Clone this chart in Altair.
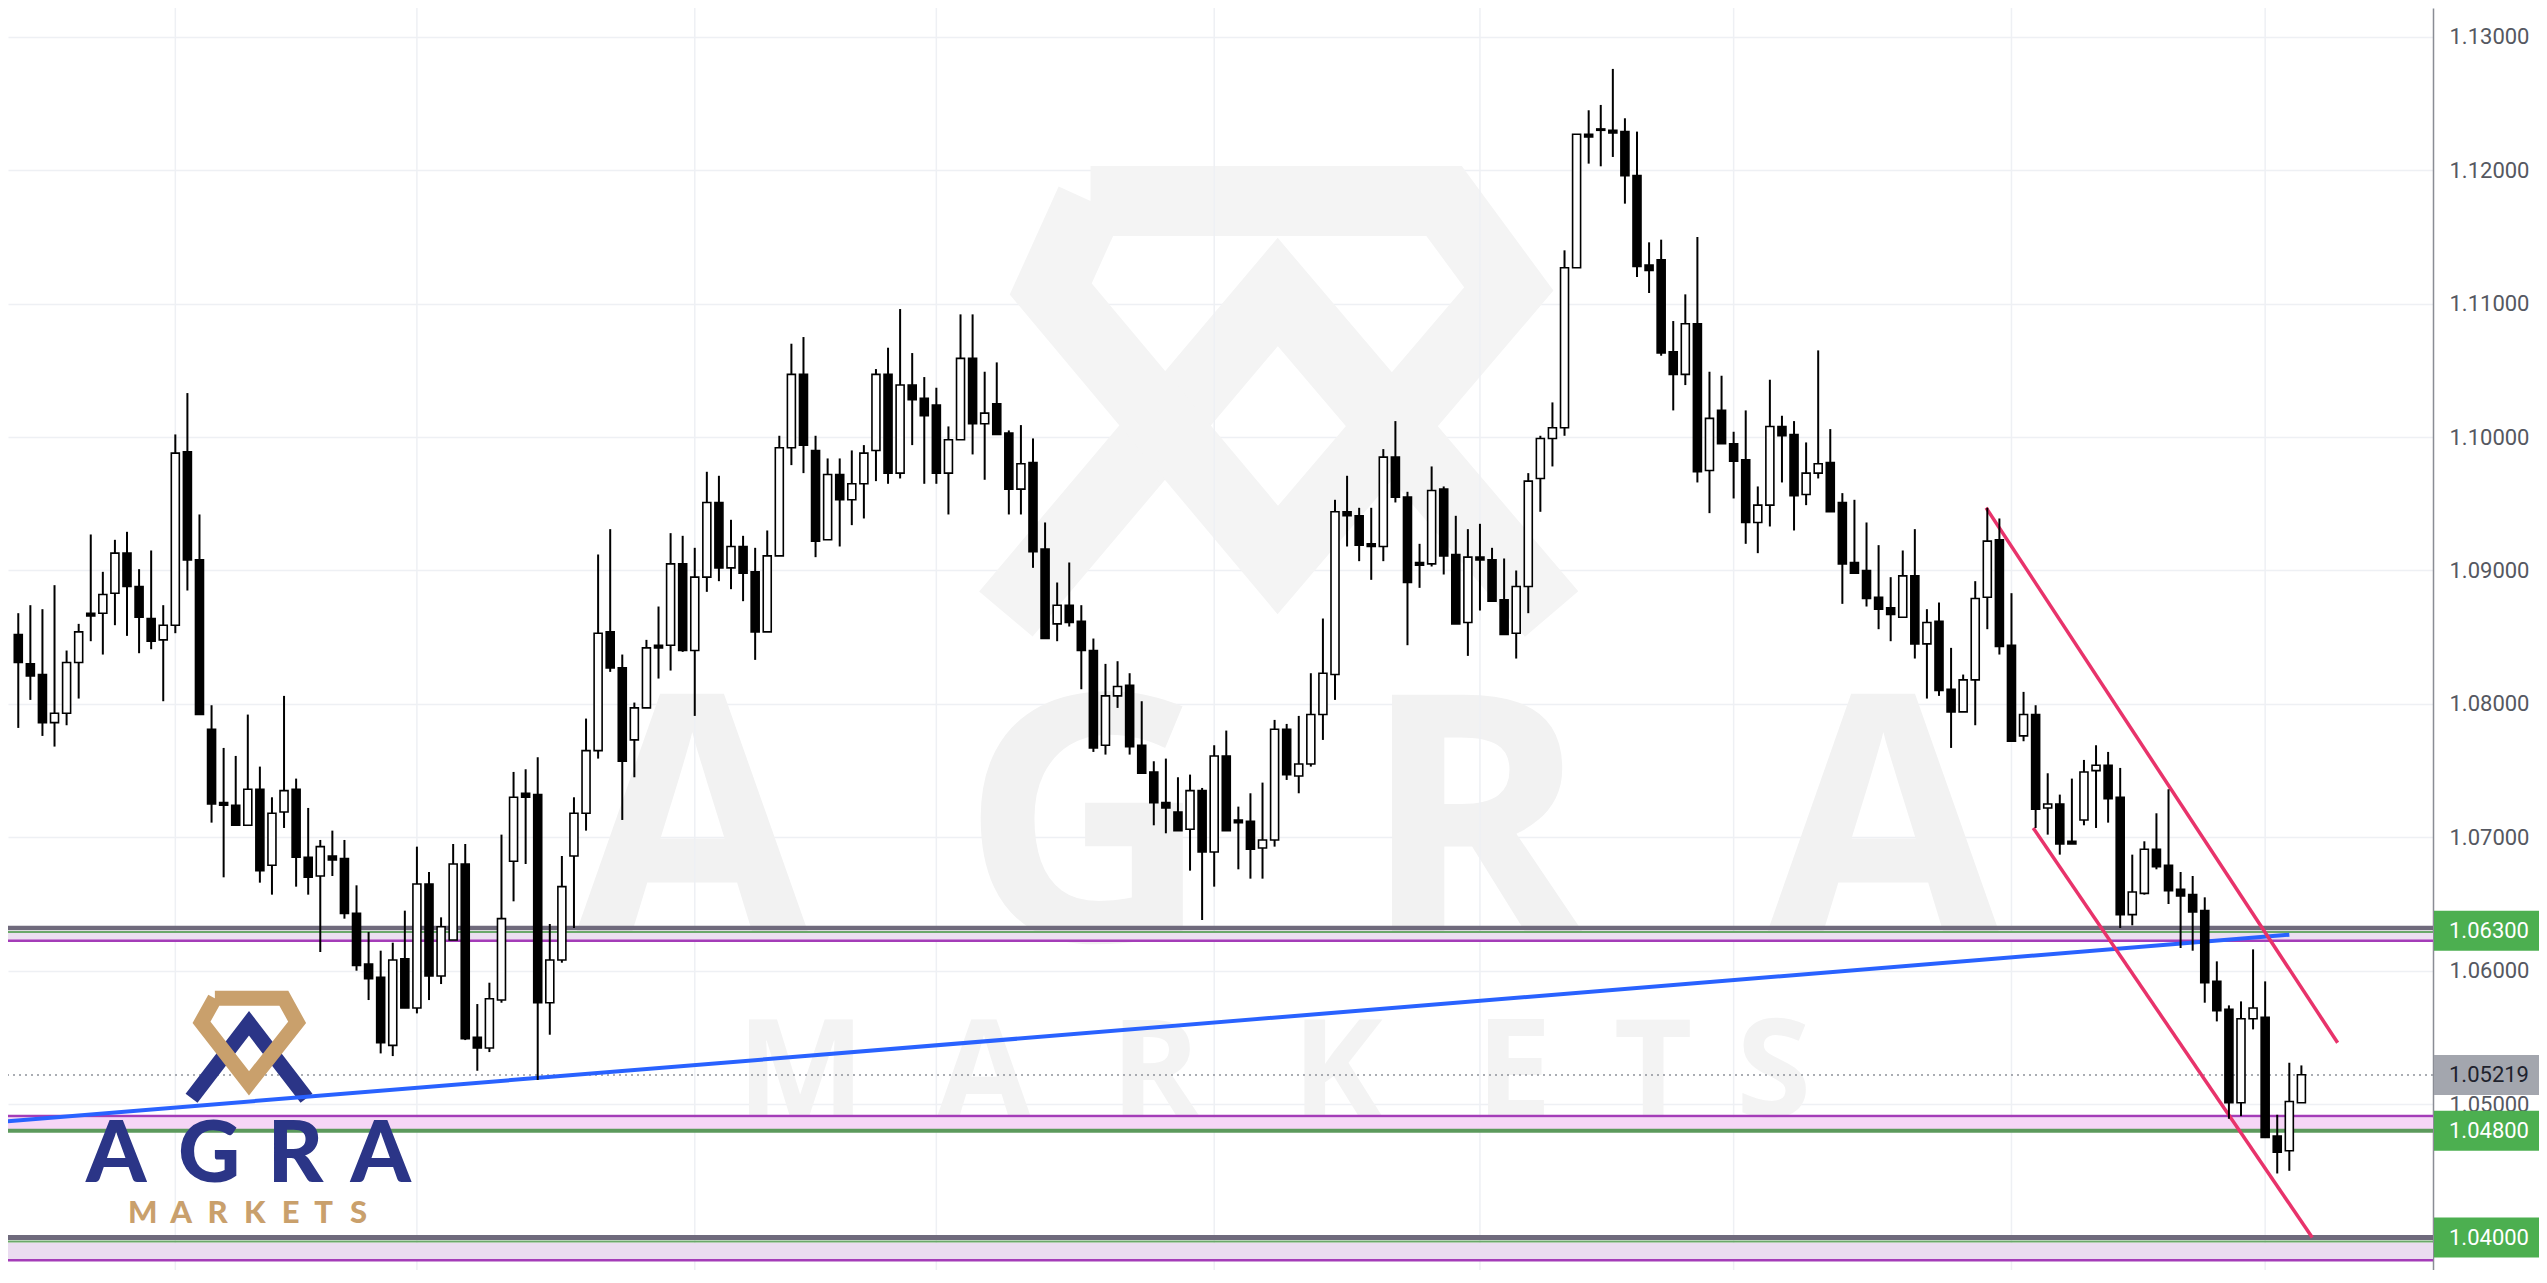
import altair as alt
import pandas as pd

# ---------------- data ----------------
opens = [1.0852, 1.0830, 1.0822, 1.0786, 1.0793, 1.0831, 1.0868, 1.0868, 1.0883, 1.0913,
         1.0888, 1.0864, 1.0848, 1.0859, 1.0989, 1.0908, 1.0781, 1.0726, 1.0724, 1.0709,
         1.0736, 1.0679, 1.0719, 1.0736, 1.0685, 1.0671, 1.0686, 1.0684, 1.0643, 1.0605,
         1.0595, 1.0544, 1.0609, 1.0572, 1.0665, 1.0596, 1.0623, 1.0680, 1.0550, 1.0542,
         1.0578, 1.0682, 1.0733, 1.0732, 1.0576, 1.0608, 1.0686, 1.0718, 1.0765, 1.0854,
         1.0827, 1.0773, 1.0797, 1.0844, 1.0844, 1.0905, 1.0840, 1.0895, 1.0951, 1.0902,
         1.0918, 1.0899, 1.0854, 1.0911, 1.0992, 1.1047, 1.0990, 1.0923, 1.0972, 1.0953,
         1.0965, 1.0990, 1.1047, 1.0973, 1.1039, 1.1029, 1.1024, 1.0973, 1.0998, 1.1059,
         1.1010, 1.1025, 1.1003, 1.0961, 1.0981, 1.0916, 1.0860, 1.0874, 1.0862, 1.0840,
         1.0769, 1.0806, 1.0814, 1.0769, 1.0749, 1.0726, 1.0719, 1.0706, 1.0735, 1.0689,
         1.0761, 1.0713, 1.0712, 1.0692, 1.0698, 1.0781, 1.0746, 1.0755, 1.0792, 1.0822,
         1.0944, 1.0941, 1.0920, 1.0918, 1.0985, 1.0955, 1.0906, 1.0905, 1.0961, 1.0912,
         1.0861, 1.0910, 1.0908, 1.0878, 1.0853, 1.0888, 1.0969, 1.0999, 1.1007, 1.1127,
         1.1227, 1.1231, 1.1230, 1.1229, 1.1196, 1.1129, 1.1133, 1.1064, 1.1047, 1.1085,
         1.0975, 1.1020, 1.0995, 1.0983, 1.0936, 1.0949, 1.1008, 1.1002, 1.0957, 1.0973,
         1.0981, 1.0951, 1.0906, 1.0900, 1.0880, 1.0872, 1.0865, 1.0896, 1.0845, 1.0862,
         1.0811, 1.0794, 1.0818, 1.0880, 1.0923, 1.0844, 1.0776, 1.0792, 1.0722, 1.0725,
         1.0697, 1.0713, 1.0750, 1.0754, 1.0730, 1.0642, 1.0658, 1.0691, 1.0679, 1.0661,
         1.0657, 1.0645, 1.0592, 1.0571, 1.0501, 1.0564, 1.0565, 1.0476, 1.0465, 1.0501]
highs = [1.0868, 1.0874, 1.0871, 1.0889, 1.0840, 1.0860, 1.0927, 1.0899, 1.0923, 1.0929,
         1.0901, 1.0915, 1.0874, 1.1002, 1.1033, 1.0942, 1.0799, 1.0767, 1.0761, 1.0792,
         1.0753, 1.0730, 1.0806, 1.0744, 1.0722, 1.0698, 1.0705, 1.0698, 1.0664, 1.0629,
         1.0615, 1.0621, 1.0645, 1.0693, 1.0674, 1.0640, 1.0695, 1.0695, 1.0575, 1.0591,
         1.0702, 1.0749, 1.0751, 1.0760, 1.0635, 1.0686, 1.0730, 1.0789, 1.0912, 1.0931,
         1.0837, 1.0801, 1.0848, 1.0873, 1.0928, 1.0926, 1.0917, 1.0974, 1.0971, 1.0938,
         1.0926, 1.0917, 1.0930, 1.1001, 1.1070, 1.1075, 1.1001, 1.0984, 1.0984, 1.0990,
         1.0994, 1.1051, 1.1067, 1.1096, 1.1063, 1.1045, 1.1037, 1.1008, 1.1092, 1.1092,
         1.1049, 1.1056, 1.1005, 1.1009, 1.0999, 1.0936, 1.0891, 1.0906, 1.0874, 1.0849,
         1.0830, 1.0832, 1.0823, 1.0802, 1.0757, 1.0759, 1.0745, 1.0747, 1.0737, 1.0769,
         1.0780, 1.0723, 1.0733, 1.0741, 1.0788, 1.0785, 1.0791, 1.0823, 1.0864, 1.0953,
         1.0971, 1.0947, 1.0947, 1.0991, 1.1012, 1.0959, 1.0920, 1.0978, 1.0963, 1.0941,
         1.0931, 1.0935, 1.0917, 1.0909, 1.0900, 1.0973, 1.1001, 1.1026, 1.1140, 1.1227,
         1.1245, 1.1249, 1.1276, 1.1239, 1.1229, 1.1146, 1.1148, 1.1087, 1.1107, 1.1150,
         1.1049, 1.1046, 1.1004, 1.1020, 1.0963, 1.1043, 1.1016, 1.1012, 1.0996, 1.1065,
         1.1006, 1.0958, 1.0953, 1.0936, 1.0919, 1.0895, 1.0915, 1.0931, 1.0871, 1.0876,
         1.0842, 1.0822, 1.0892, 1.0947, 1.0939, 1.0883, 1.0809, 1.0799, 1.0748, 1.0732,
         1.0744, 1.0758, 1.0769, 1.0764, 1.0752, 1.0687, 1.0697, 1.0718, 1.0736, 1.0674,
         1.0671, 1.0655, 1.0607, 1.0574, 1.0577, 1.0616, 1.0592, 1.0492, 1.0531, 1.0529]
lows = [1.0782, 1.0803, 1.0776, 1.0768, 1.0784, 1.0804, 1.0847, 1.0837, 1.0859, 1.0851,
        1.0838, 1.0841, 1.0802, 1.0853, 1.0885, 1.0792, 1.0711, 1.0670, 1.0709, 1.0709,
        1.0666, 1.0657, 1.0707, 1.0663, 1.0657, 1.0614, 1.0671, 1.0639, 1.0600, 1.0578,
        1.0538, 1.0536, 1.0572, 1.0568, 1.0578, 1.0590, 1.0623, 1.0548, 1.0525, 1.0539,
        1.0576, 1.0652, 1.0680, 1.0518, 1.0552, 1.0606, 1.0632, 1.0705, 1.0759, 1.0824,
        1.0713, 1.0745, 1.0797, 1.0819, 1.0825, 1.0839, 1.0791, 1.0884, 1.0892, 1.0886,
        1.0877, 1.0833, 1.0854, 1.0911, 1.0979, 1.0973, 1.0910, 1.0923, 1.0918, 1.0934,
        1.0939, 1.0967, 1.0965, 1.0969, 1.0994, 1.0965, 1.0965, 1.0942, 1.0998, 1.0987,
        1.0968, 1.1002, 1.0942, 1.0942, 1.0902, 1.0849, 1.0847, 1.0858, 1.0811, 1.0764,
        1.0762, 1.0797, 1.0762, 1.0748, 1.0709, 1.0703, 1.0705, 1.0675, 1.0638, 1.0663,
        1.0705, 1.0676, 1.0669, 1.0669, 1.0693, 1.0743, 1.0733, 1.0753, 1.0773, 1.0803,
        1.0918, 1.0907, 1.0893, 1.0907, 1.0951, 1.0844, 1.0887, 1.0903, 1.0897, 1.0860,
        1.0836, 1.0870, 1.0877, 1.0852, 1.0834, 1.0868, 1.0944, 1.0978, 1.1001, 1.1127,
        1.1205, 1.1203, 1.1210, 1.1175, 1.1120, 1.1108, 1.1061, 1.1020, 1.1039, 1.0966,
        1.0943, 1.0995, 1.0954, 1.0920, 1.0913, 1.0933, 1.0966, 1.0930, 1.0949, 1.0969,
        1.0944, 1.0875, 1.0898, 1.0873, 1.0856, 1.0847, 1.0865, 1.0834, 1.0804, 1.0806,
        1.0767, 1.0794, 1.0784, 1.0856, 1.0837, 1.0772, 1.0772, 1.0707, 1.0702, 1.0687,
        1.0695, 1.0709, 1.0707, 1.0711, 1.0632, 1.0634, 1.0657, 1.0676, 1.0650, 1.0617,
        1.0615, 1.0576, 1.0562, 1.0489, 1.0491, 1.0556, 1.0475, 1.0448, 1.0450, 1.0501]
closes = [1.0831, 1.0821, 1.0786, 1.0793, 1.0831, 1.0854, 1.0866, 1.0882, 1.0913, 1.0888,
          1.0865, 1.0847, 1.0859, 1.0988, 1.0908, 1.0792, 1.0725, 1.0724, 1.0709, 1.0736,
          1.0675, 1.0718, 1.0735, 1.0685, 1.0670, 1.0693, 1.0683, 1.0643, 1.0604, 1.0594,
          1.0546, 1.0608, 1.0572, 1.0665, 1.0596, 1.0633, 1.0680, 1.0549, 1.0542, 1.0579,
          1.0639, 1.0730, 1.0730, 1.0576, 1.0608, 1.0663, 1.0718, 1.0765, 1.0853, 1.0827,
          1.0757, 1.0797, 1.0842, 1.0842, 1.0905, 1.0840, 1.0895, 1.0951, 1.0902, 1.0918,
          1.0898, 1.0854, 1.0911, 1.0992, 1.1047, 1.0994, 1.0922, 1.0972, 1.0953, 1.0965,
          1.0988, 1.1047, 1.0973, 1.1039, 1.1028, 1.1016, 1.0973, 1.0998, 1.1059, 1.1010,
          1.1018, 1.1002, 1.0961, 1.0980, 1.0914, 1.0849, 1.0874, 1.0861, 1.0840, 1.0767,
          1.0806, 1.0813, 1.0768, 1.0748, 1.0726, 1.0722, 1.0705, 1.0735, 1.0689, 1.0761,
          1.0705, 1.0711, 1.0691, 1.0698, 1.0781, 1.0747, 1.0755, 1.0792, 1.0823, 1.0944,
          1.0941, 1.0919, 1.0918, 1.0985, 1.0955, 1.0891, 1.0904, 1.0960, 1.0911, 1.0860,
          1.0910, 1.0908, 1.0877, 1.0852, 1.0888, 1.0967, 1.0999, 1.1007, 1.1127, 1.1227,
          1.1225, 1.1230, 1.1228, 1.1196, 1.1128, 1.1125, 1.1063, 1.1047, 1.1085, 1.0974,
          1.1014, 1.0995, 1.0982, 1.0936, 1.0949, 1.1008, 1.1001, 1.0956, 1.0973, 1.0980,
          1.0944, 1.0905, 1.0898, 1.0879, 1.0871, 1.0867, 1.0896, 1.0845, 1.0861, 1.0810,
          1.0794, 1.0818, 1.0879, 1.0922, 1.0843, 1.0772, 1.0792, 1.0721, 1.0725, 1.0695,
          1.0695, 1.0749, 1.0754, 1.0729, 1.0642, 1.0659, 1.0691, 1.0678, 1.0660, 1.0656,
          1.0644, 1.0591, 1.0570, 1.0501, 1.0564, 1.0572, 1.0475, 1.0464, 1.0502, 1.0522]

axis_ticks = [1.04, 1.05, 1.06, 1.07, 1.08, 1.09, 1.10, 1.11, 1.12, 1.13]
vgrid_bars = [13, 33, 56, 76, 99, 121, 142, 165, 186]

level_values = [1.063, 1.048, 1.040]
level_labels = ["1.06300", "1.04800", "1.04000"]
last_price = 1.05219
last_label = "1.05219"

# horizontal zones: boundary lines (price, colour, width) and fills (top, bottom, colour)
zone_line_prices = [1.0632, 1.0629, 1.06225, 1.0491, 1.0480, 1.0400, 1.0397, 1.0383]
zone_line_colors = ["#6f6a7c", "#6aa86a", "#a43cb8", "#a43cb8", "#5c9a5c", "#6f6a7c", "#6aa86a", "#a43cb8"]
zone_line_widths = [4.5, 2, 2.5, 2.5, 4, 5, 2, 2.5]
zone_fill_top = [1.0629, 1.0490, 1.0396]
zone_fill_bottom = [1.06225, 1.0481, 1.0383]
zone_fill_colors = ["#ecdff1", "#f6d6f6", "#eadcf0"]

# drawn lines (bar index, price)
blue_bars = [-1.1, 188.0]
blue_prices = [1.0487, 1.0627]
upper_bars = [162.9, 192.0]
upper_prices = [1.0947, 1.0546]
lower_bars = [166.8, 189.9]
lower_prices = [1.0707, 1.0400]

# ---------------- layout ----------------
W, H, PAD_R = 2425, 1262, 106
PAGE = 8
BAR0_PX, BAR_STEP = 13.3, 12.13
P113_PX, PX_PER_UNIT = 36.9, 13340.0
BOX_H = 40


def rx(px):
    return (px - BAR0_PX) / BAR_STEP


def ry(py):
    return 1.13 - (py - P113_PX) / PX_PER_UNIT


x_dom = [rx(PAGE), rx(PAGE + W)]
y_dom = [ry(PAGE + H), ry(PAGE)]

xs = alt.Scale(domain=x_dom, nice=False, zero=False)
ys = alt.Scale(domain=y_dom, nice=False, zero=False)
yaxis = alt.Axis(orient="right", values=axis_ticks, format=".5f", grid=True,
                 gridColor="#eef0f4", gridWidth=1.5, domainColor="#8a8d95", domainWidth=1.5,
                 ticks=False, labelPadding=16, labelFontSize=22, labelColor="#555861",
                 labelFont="Roboto", title=None, labelFlush=False)


def X(f):
    return alt.X(f, type="quantitative", scale=xs, axis=None)


def Y(f):
    return alt.Y(f, type="quantitative", scale=ys, axis=yaxis)


def Y2(f):
    return alt.Y2(f)


# ---------------- watermark ----------------
wm_letters = ["A", "G", "R", "A"]
wm_px = [690, 1085, 1476, 1886]
wm_df = pd.DataFrame({"t": wm_letters, "x": [rx(p) for p in wm_px], "y": [ry(941)] * 4})
wm_text = alt.Chart(wm_df).mark_text(font="Open Sans", fontSize=345, fontWeight="bold",
                                     color="#f2f2f2", baseline="alphabetic", align="center").encode(
    x=X("x"), y=Y("y"), text="t:N")

wm2_letters = list("MARKETS")
wm2_px = [799, 983, 1155, 1338, 1515, 1655, 1776]
wm2_df = pd.DataFrame({"t": wm2_letters, "x": [rx(p) for p in wm2_px], "y": [ry(1117)] * 7})
wm2_text = alt.Chart(wm2_df).mark_text(font="Open Sans", fontSize=136, fontWeight="bold",
                                       color="#f3f3f3", baseline="alphabetic", align="center").encode(
    x=X("x"), y=Y("y"), text="t:N")

emb_rows = []
gem = [(1090, 201), (1445, 201), (1510, 289), (1278, 560), (1050, 289), (1090, 201)]
chev = [(1005, 614), (1278, 292), (1553, 614)]
for k, (a, b) in enumerate(chev):
    emb_rows.append({"g": "chev", "o": k, "x": rx(a), "y": ry(b)})
for k, (a, b) in enumerate(gem):
    emb_rows.append({"g": "gem", "o": k, "x": rx(a), "y": ry(b)})
emb_df = pd.DataFrame(emb_rows)
emblem = alt.Chart(emb_df).mark_line(strokeWidth=70, color="#f4f4f4", strokeJoin="miter",
                                     strokeCap="butt").encode(
    x=X("x"), y=Y("y"), detail="g:N", order="o:Q")

# ---------------- grid / zones ----------------
vgrid = alt.Chart(pd.DataFrame({"x": vgrid_bars})).mark_rule(color="#eef0f4", strokeWidth=1.5).encode(
    x=X("x"))

zf_df = pd.DataFrame({"y": zone_fill_top, "y2": zone_fill_bottom, "c": zone_fill_colors})
zone_fill = alt.Chart(zf_df).mark_rect().encode(
    x=alt.value(0), x2=alt.value(W), y=Y("y"), y2=Y2("y2"), color=alt.Color("c:N", scale=None))

zl_df = pd.DataFrame({"y": zone_line_prices, "c": zone_line_colors, "w": zone_line_widths})
zone_lines = alt.Chart(zl_df).mark_rule().encode(
    y=Y("y"), color=alt.Color("c:N", scale=None), strokeWidth=alt.StrokeWidth("w:Q", scale=None))

last_line = alt.Chart(pd.DataFrame({"y": [last_price]})).mark_rule(
    color="#8f929a", strokeWidth=1.5, strokeDash=[2, 4]).encode(y=Y("y"))

# ---------------- logo (bottom left) ----------------
logo_chev = [(187.3, 1098.3), (245, 1023.3), (302.7, 1098.3)]
logo_gem = [(210.7, 998.3), (280, 998.3), (293.3, 1022.3), (245, 1083.3), (197.3, 1022.3), (210.7, 998.3)]
logo_chev_df = pd.DataFrame([{"g": "chev", "o": k, "x": rx(a), "y": ry(b)} for k, (a, b) in enumerate(logo_chev)])
logo_gem_df = pd.DataFrame([{"g": "gem", "o": k, "x": rx(a), "y": ry(b)} for k, (a, b) in enumerate(logo_gem)])
logo_chev_mark = alt.Chart(logo_chev_df).mark_line(strokeWidth=15, color="#2b3587", strokeJoin="miter",
                                                   strokeCap="butt").encode(
    x=X("x"), y=Y("y"), detail="g:N", order="o:Q")
logo_gem_mark = alt.Chart(logo_gem_df).mark_line(strokeWidth=15, color="#c9a06c", strokeJoin="miter",
                                                 strokeCap="butt").encode(
    x=X("x"), y=Y("y"), detail="g:N", order="o:Q")

agra_letters = list("AGRA")
agra_px = [111.7, 205, 291.7, 377.3]
agra_df = pd.DataFrame({"t": agra_letters, "x": [rx(p) for p in agra_px], "y": [ry(1181.7)] * 4})
agra_text = alt.Chart(agra_df).mark_text(font="Lato", fontSize=86, fontWeight=900, color="#2b3587",
                                         baseline="alphabetic", align="center").encode(
    x=X("x"), y=Y("y"), text="t:N")
mk_letters = list("MARKETS")
mk_px = [138.3, 176.7, 213.3, 250.7, 286.7, 320, 355]
mk_df = pd.DataFrame({"t": mk_letters, "x": [rx(p) for p in mk_px], "y": [ry(1223.3)] * 7})
mk_text = alt.Chart(mk_df).mark_text(font="Lato", fontSize=31, fontWeight=900, color="#c9a06c",
                                     baseline="alphabetic", align="center").encode(
    x=X("x"), y=Y("y"), text="t:N")

# ---------------- drawn lines ----------------
blue = alt.Chart(pd.DataFrame({"x": blue_bars, "y": blue_prices})).mark_line(
    color="#2962ff", strokeWidth=4, clip=True).encode(x=X("x"), y=Y("y"))
ch_df = pd.DataFrame({"x": upper_bars + lower_bars, "y": upper_prices + lower_prices,
                      "g": ["u", "u", "l", "l"]})
channel = alt.Chart(ch_df).mark_line(color="#e8336b", strokeWidth=3.5, clip=True).encode(
    x=X("x"), y=Y("y"), detail="g:N")

# ---------------- candles ----------------
n = len(opens)
cdf = pd.DataFrame({"i": list(range(n)), "o": opens, "h": highs, "l": lows, "c": closes})
cdf["dir"] = ["up" if c >= o else "down" for o, c in zip(opens, closes)]
wicks = alt.Chart(cdf).mark_rule(color="black", strokeWidth=2).encode(x=X("i"), y=Y("l"), y2=Y2("h"))
bodies = alt.Chart(cdf).mark_bar(size=8, stroke="black", strokeWidth=1.6).encode(
    x=X("i"), y=Y("o"), y2=Y2("c"),
    fill=alt.Fill("dir:N", scale=alt.Scale(domain=["up", "down"], range=["white", "black"]), legend=None))

# ---------------- price boxes on the axis ----------------
box_df = pd.DataFrame({"y": level_values + [last_price], "t": level_labels + [last_label],
                       "bg": ["#4caf50", "#4caf50", "#4caf50", "#a3a6ae"],
                       "fg": ["#ffffff", "#ffffff", "#ffffff", "#1e222d"]})
boxes = alt.Chart(box_df).mark_rect(yOffset=-BOX_H / 2, y2Offset=BOX_H / 2).encode(
    x=alt.value(W + 1), x2=alt.value(W + PAD_R), y=Y("y"), y2=Y2("y"),
    color=alt.Color("bg:N", scale=None))
box_text = alt.Chart(box_df).mark_text(font="Roboto", fontSize=22, align="center", baseline="middle").encode(
    x=alt.value(W + 56), y=Y("y"), text="t:N", color=alt.Color("fg:N", scale=None))

chart = alt.layer(
    wm_text, wm2_text, emblem, vgrid, zone_fill, zone_lines, last_line,
    logo_chev_mark, logo_gem_mark, agra_text, mk_text,
    blue, channel, wicks, bodies, boxes, box_text
).properties(
    width=W, height=H,
    autosize=alt.AutoSizeParams(type="none"),
    padding={"left": 0, "top": 0, "right": PAD_R, "bottom": 0},
    background="white"
).configure_view(stroke=None)

chart.save("out.html", embed_options={"renderer": "svg", "actions": False})
